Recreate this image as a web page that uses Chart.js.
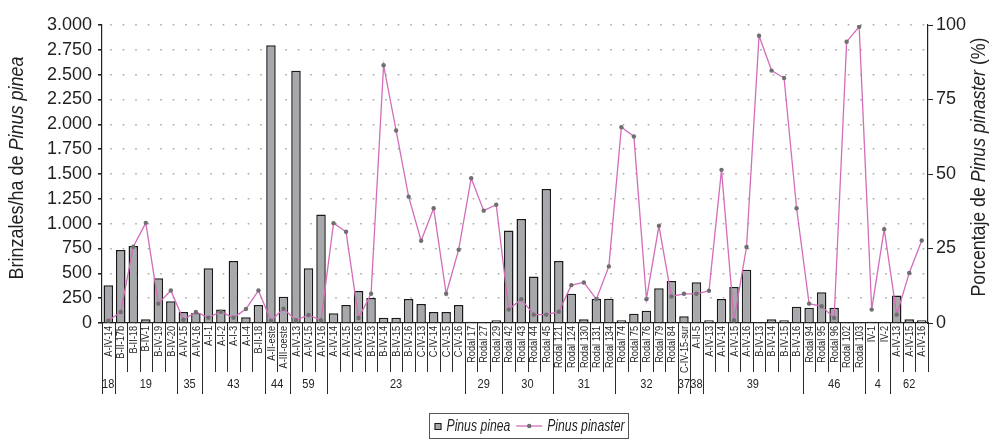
<!DOCTYPE html>
<html>
<head>
<meta charset="utf-8">
<script src="https://cdn.jsdelivr.net/npm/chart.js@4.4.1/dist/chart.umd.min.js"></script>
<style>
  html, body { margin: 0; padding: 0; background: #fff; }
  #wrap { width: 992px; height: 440px; }
</style>
</head>
<body>
<div id="wrap"><canvas id="chart" width="992" height="440"></canvas></div>
<script>
// rodales (one label per bar)
const categories = [
  'A-IV-14',
  'B-II-17b', 'B-II-18', 'B-IV-1', 'B-IV-19', 'B-IV-20',
  'A-IV-15', 'A-IV-16',
  'A-I-1', 'A-I-2', 'A-I-3', 'A-I-4', 'B-II-18',
  'A-II-este', 'A-III-oeste',
  'A-IV-13', 'A-IV-15', 'A-IV-16',
  'A-IV-14', 'A-IV-15', 'A-IV-16', 'B-IV-13', 'B-IV-14', 'B-IV-15', 'B-IV-16', 'C-IV-13', 'C-IV-14', 'C-IV-15', 'C-IV-16',
  'Rodal 17', 'Rodal 27', 'Rodal 29',
  'Rodal 42', 'Rodal 43', 'Rodal 44', 'Rodal 45',
  'Rodal 121', 'Rodal 124', 'Rodal 130', 'Rodal 131', 'Rodal 134',
  'Rodal 74', 'Rodal 75', 'Rodal 76', 'Rodal 79', 'Rodal 84',
  'C-IV-15-sur',
  'A-II-5',
  'A-IV-13', 'A-IV-14', 'A-IV-15', 'A-IV-16', 'B-IV-13', 'B-IV-14', 'B-IV-15', 'B-IV-16',
  'Rodal 94', 'Rodal 95', 'Rodal 96', 'Rodal 102', 'Rodal 103',
  'IV-1', 'IV-2',
  'A-IV-13', 'A-IV-15', 'A-IV-16'
];

// second row of the axis: group name + how many rodales it holds
const groupLabels = ['18', '19', '35', '43', '44', '59', '23', '29', '30', '31', '32', '37', '38', '39', '46', '4', '62'];
const groupSizes  = [1, 5, 2, 5, 2, 3, 11, 3, 4, 5, 5, 1, 1, 8, 5, 2, 3];

// brinzales/ha de Pinus pinea
const pinea = [
  380,
  735, 775, 37, 450, 220,
  110, 100,
  550, 137, 624, 57, 181,
  2795, 265,
  2540, 550, 1093,
  97, 181, 322, 252, 54, 54, 241, 191, 111, 111, 181,
  13, 0, 27,
  932, 1046, 469, 1348,
  624, 295, 37, 245, 245,
  27, 94, 124, 349, 422,
  67,
  409,
  27, 241, 362, 537, 0, 37, 27, 164,
  154, 309, 154, 5, 0,
  13, 13,
  278, 37, 27
];

// porcentaje de Pinus pinaster
const pinaster = [
  0.8,
  3.7, 25.6, 33.6, 6.5, 10.9,
  1.1, 3.7,
  1.8, 3.8, 1.8, 4.7, 10.9,
  0.8, 4.8,
  0.9, 2.7, 0.9,
  33.5, 30.6, 1.7, 9.8, 86.5, 64.6, 42.4, 27.6, 38.5, 9.8, 24.6,
  48.6, 37.7, 39.7,
  4.5, 8.0, 2.8, 2.8,
  3.8, 12.7, 13.6, 8.0, 19.0,
  65.7, 62.6, 8.0, 32.6, 8.9,
  9.8,
  9.8,
  10.8, 51.4, 0.9, 25.5, 96.4, 84.7, 82.2, 38.5,
  6.5, 5.6, 1.7, 94.4, 99.4,
  4.5, 31.5,
  2.8, 16.8, 27.7
];

const TEXT = '#231f20';
const FONT = "'Liberation Sans', Arial, sans-serif";

function fmtThousands(v) {
  if (v < 1000) return String(v);
  return Math.floor(v / 1000) + '.' + String(v % 1000).padStart(3, '0');
}

// text squeezed along its own direction, to get the condensed look of the original
function squeezedText(ctx, text, x, y, angle, squeeze, align) {
  ctx.save();
  ctx.translate(x, y);
  ctx.rotate(angle);
  ctx.scale(squeeze, 1);
  ctx.textAlign = align;
  ctx.fillText(text, 0, 0);
  ctx.restore();
}

// run of text pieces (some italic) centred on (cx, cy), fitted to a length
function drawMixed(ctx, parts, size, cx, cy, angle, length) {
  ctx.save();
  ctx.translate(cx, cy);
  ctx.rotate(angle);
  ctx.textBaseline = 'middle';
  ctx.textAlign = 'left';
  let total = 0;
  parts.forEach(p => {
    ctx.font = (p.italic ? 'italic ' : '') + size + 'px ' + FONT;
    p.w = ctx.measureText(p.text).width;
    total += p.w;
  });
  ctx.scale(length / total, 1);
  let xPos = -total / 2;
  parts.forEach(p => {
    ctx.font = (p.italic ? 'italic ' : '') + size + 'px ' + FONT;
    ctx.fillText(p.text, xPos, 0);
    xPos += p.w;
  });
  ctx.restore();
}

const decorations = {
  id: 'decorations',
  afterDraw(chart) {
    const { ctx, chartArea: area, scales: { x } } = chart;
    const step = (area.right - area.left) / categories.length;
    ctx.save();
    ctx.fillStyle = TEXT;
    ctx.strokeStyle = '#2a2a2a';
    ctx.lineWidth = 1;

    // rotated rodal names
    ctx.font = '11.5px ' + FONT;
    ctx.textBaseline = 'middle';
    categories.forEach((c, i) => {
      squeezedText(ctx, c, x.getPixelForValue(i) + 0.5, area.bottom + 3, -Math.PI / 2, 0.8, 'right');
    });

    // cell borders under the axis
    ctx.beginPath();
    for (let i = 0; i <= categories.length; i++) {
      const bx = Math.round(area.left + i * step) + 0.5;
      ctx.moveTo(bx, area.bottom);
      ctx.lineTo(bx, area.bottom + 49);
    }
    ctx.stroke();

    // group row
    ctx.font = '13px ' + FONT;
    ctx.textBaseline = 'middle';
    let start = 0;
    ctx.beginPath();
    groupSizes.forEach((n, g) => {
      const bx = Math.round(area.left + start * step) + 0.5;
      ctx.moveTo(bx, area.bottom);
      ctx.lineTo(bx, area.bottom + 71);
      const cx = area.left + (start + n / 2) * step;
      squeezedText(ctx, groupLabels[g], cx, area.bottom + 61, 0, 0.85, 'center');
      start += n;
    });
    ctx.stroke();

    // axis titles
    drawMixed(ctx, [{ text: 'Brinzales/ha de ' }, { text: 'Pinus pinea', italic: true }], 20, 17, 168, -Math.PI / 2, 223);
    drawMixed(ctx, [{ text: 'Porcentaje de ' }, { text: 'Pinus pinaster', italic: true }, { text: ' (%)' }], 20, 979, 167, -Math.PI / 2, 259);

    // legend box, fitted to the reference width
    const ly = 426;
    const boxX = 429.5, boxW = 199;
    ctx.font = 'italic 16px ' + FONT;
    ctx.textBaseline = 'middle';
    const n1 = ctx.measureText('Pinus pinea').width;
    const n2 = ctx.measureText('Pinus pinaster').width;
    const fixed = 5 + 7 + 5 + 6 + 26 + 5 + 4;
    const sq = (boxW - fixed) / (n1 + n2);
    ctx.strokeStyle = '#555';
    ctx.strokeRect(boxX, 413.5, boxW, 25);
    let cx = boxX + 5;
    ctx.fillStyle = '#a7a8ab';
    ctx.fillRect(cx, ly - 3, 7, 7);
    ctx.strokeStyle = '#1a1a1a';
    ctx.strokeRect(cx + 0.5, ly - 2.5, 6, 6);
    cx += 7 + 5;
    ctx.fillStyle = TEXT;
    squeezedText(ctx, 'Pinus pinea', cx, ly + 1, 0, sq, 'left');
    cx += n1 * sq + 6;
    ctx.strokeStyle = '#d46db9';
    ctx.lineWidth = 1.3;
    ctx.beginPath();
    ctx.moveTo(cx, ly);
    ctx.lineTo(cx + 26, ly);
    ctx.stroke();
    ctx.fillStyle = '#6f6f6f';
    ctx.beginPath();
    ctx.arc(cx + 13, ly, 2.2, 0, Math.PI * 2);
    ctx.fill();
    cx += 26 + 5;
    ctx.fillStyle = TEXT;
    squeezedText(ctx, 'Pinus pinaster', cx, ly + 1, 0, sq, 'left');
    ctx.restore();
  }
};

const ctx = document.getElementById('chart').getContext('2d');
new Chart(ctx, {
  data: {
    labels: categories,
    datasets: [
      {
        type: 'line',
        label: 'Pinus pinaster',
        data: pinaster,
        yAxisID: 'yPct',
        borderColor: '#d46db9',
        borderWidth: 1.3,
        pointRadius: 2.2,
        pointStyle: 'circle',
        pointBackgroundColor: '#6f6f6f',
        pointBorderColor: '#6f6f6f',
        pointBorderWidth: 0,
        tension: 0,
        order: 0
      },
      {
        type: 'bar',
        label: 'Pinus pinea',
        data: pinea,
        yAxisID: 'y',
        backgroundColor: '#a7a8ab',
        borderColor: '#1a1a1a',
        borderWidth: 1.5,
        barPercentage: 0.76,
        categoryPercentage: 1,
        order: 1
      }
    ]
  },
  options: {
    responsive: false,
    animation: false,
    layout: { padding: { top: 25 } },
    plugins: { legend: { display: false }, tooltip: { enabled: false } },
    scales: {
      x: {
        ticks: { display: false },
        grid: { display: false },
        border: { color: '#222', width: 1.2 },
        afterFit: s => { s.height = 117; }
      },
      y: {
        position: 'left',
        min: 0,
        max: 3000,
        ticks: {
          stepSize: 250,
          color: TEXT,
          padding: 6,
          font: { family: FONT, size: 18 },
          callback: v => fmtThousands(v)
        },
        grid: { color: '#a8a8a8', lineWidth: 1.6, tickColor: '#222', tickLength: 4 },
        border: { color: '#222', width: 1.2, dash: [1.6, 10.9], dashOffset: 4.5 },
        afterFit: s => { s.width = 102; }
      },
      yPct: {
        position: 'right',
        min: 0,
        max: 100,
        ticks: {
          stepSize: 25,
          color: TEXT,
          padding: 3,
          font: { family: FONT, size: 18 }
        },
        grid: { drawOnChartArea: false, tickColor: '#222', tickLength: 5 },
        border: { color: '#222', width: 1.2 },
        afterFit: s => { s.width = 64; }
      }
    }
  },
  plugins: [decorations]
});
</script>
</body>
</html>
